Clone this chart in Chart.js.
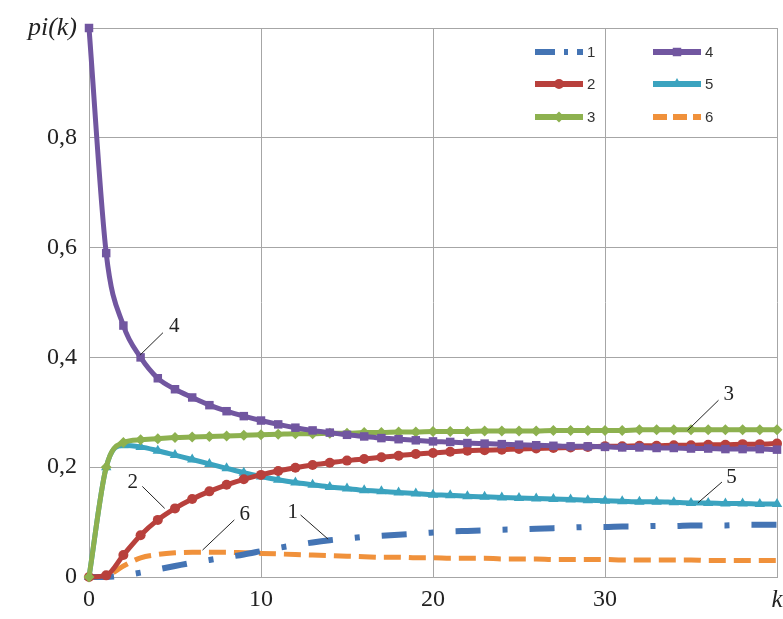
<!DOCTYPE html>
<html>
<head>
<meta charset="utf-8">
<script src="https://cdn.jsdelivr.net/npm/chart.js@4.4.1/dist/chart.umd.min.js"></script>
<style>
  body { margin: 0; background: #fff; }
  #wrap { width: 783px; height: 619px; }
</style>
</head>
<body>
<div id="wrap"><canvas id="chart" width="783" height="619"></canvas></div>
<script>
// k = 0..40
const K = Array.from({ length: 41 }, (_, i) => i);

const s1 = [0, 0, 0.003, 0.008, 0.014, 0.02, 0.026, 0.031, 0.036, 0.041, 0.047, 0.053, 0.058, 0.063, 0.067, 0.07, 0.073, 0.075, 0.077, 0.079, 0.081, 0.083, 0.084, 0.085, 0.086, 0.087, 0.088, 0.089, 0.09, 0.091, 0.091, 0.092, 0.092, 0.093, 0.093, 0.094, 0.094, 0.094, 0.095, 0.095, 0.095];
const s2 = [0, 0.003, 0.04, 0.076, 0.104, 0.125, 0.142, 0.156, 0.168, 0.178, 0.186, 0.193, 0.199, 0.204, 0.208, 0.212, 0.215, 0.218, 0.221, 0.224, 0.226, 0.228, 0.23, 0.231, 0.232, 0.233, 0.234, 0.235, 0.236, 0.237, 0.238, 0.238, 0.239, 0.239, 0.24, 0.24, 0.241, 0.241, 0.242, 0.242, 0.243];
const s3 = [0, 0.2, 0.245, 0.25, 0.252, 0.254, 0.255, 0.256, 0.257, 0.258, 0.259, 0.26, 0.261, 0.261, 0.262, 0.262, 0.263, 0.263, 0.264, 0.264, 0.265, 0.265, 0.265, 0.266, 0.266, 0.266, 0.266, 0.267, 0.267, 0.267, 0.267, 0.267, 0.268, 0.268, 0.268, 0.268, 0.268, 0.268, 0.268, 0.268, 0.268];
const s4 = [1.0, 0.59, 0.458, 0.4, 0.362, 0.342, 0.327, 0.313, 0.302, 0.293, 0.285, 0.278, 0.272, 0.267, 0.263, 0.259, 0.256, 0.253, 0.251, 0.249, 0.247, 0.246, 0.244, 0.243, 0.242, 0.241, 0.24, 0.239, 0.238, 0.238, 0.237, 0.236, 0.236, 0.235, 0.235, 0.234, 0.234, 0.233, 0.233, 0.233, 0.232];
const s5 = [0, 0.2, 0.24, 0.237, 0.23, 0.222, 0.214, 0.206, 0.198, 0.19, 0.183, 0.177, 0.172, 0.168, 0.164, 0.161, 0.158, 0.156, 0.154, 0.152, 0.15, 0.149, 0.147, 0.146, 0.145, 0.144, 0.143, 0.142, 0.141, 0.14, 0.139, 0.138, 0.137, 0.137, 0.136, 0.135, 0.135, 0.134, 0.134, 0.133, 0.133];
const s6 = [0, 0.002, 0.02, 0.035, 0.041, 0.044, 0.045, 0.045, 0.045, 0.044, 0.043, 0.042, 0.041, 0.04, 0.039, 0.038, 0.037, 0.036, 0.036, 0.035, 0.035, 0.034, 0.034, 0.034, 0.033, 0.033, 0.033, 0.032, 0.032, 0.032, 0.032, 0.031, 0.031, 0.031, 0.031, 0.031, 0.03, 0.03, 0.03, 0.03, 0.03];

const seriesNames = ['1', '2', '3', '4', '5', '6'];
const yTicks = [0, 0.2, 0.4, 0.6, 0.8, 1];
const xTicks = [0, 10, 20, 30, 40];

// curve callouts: label, point on curve, end of leader, text centre (data units)
const callouts = [
  { text: '4', from: [2.96, 0.404], to: [4.3, 0.445], at: [4.95, 0.457] },
  { text: '3', from: [34.8, 0.267], to: [36.6, 0.322], at: [37.2, 0.332] },
  { text: '5', from: [35.4, 0.135], to: [36.8, 0.173], at: [37.35, 0.181] },
  { text: '2', from: [4.4, 0.125], to: [3.1, 0.165], at: [2.55, 0.172] },
  { text: '6', from: [6.6, 0.049], to: [8.45, 0.104], at: [9.05, 0.114] },
  { text: '1', from: [13.9, 0.069], to: [12.3, 0.113], at: [11.85, 0.117] }
];

const pts = arr => arr.map((v, i) => ({ x: K[i], y: v }));

const serif = 'Liberation Serif, Times New Roman, serif';

const datasets = [
  { label: seriesNames[0], data: pts(s1), borderColor: '#4474b4', borderWidth: 6, borderDash: [25, 22, 5, 22], pointRadius: 0, order: 5 },
  { label: seriesNames[1], data: pts(s2), borderColor: '#b8403c', backgroundColor: '#b8403c', borderWidth: 5, pointStyle: 'circle', pointRadius: 5, order: 3 },
  { label: seriesNames[2], data: pts(s3), borderColor: '#8db14f', backgroundColor: '#8db14f', borderWidth: 5, pointStyle: 'rectRot', pointRadius: 5.5, order: 2 },
  { label: seriesNames[3], data: pts(s4), borderColor: '#7156a0', backgroundColor: '#7156a0', borderWidth: 5, pointStyle: 'rect', pointRadius: 6, order: 1 },
  { label: seriesNames[4], data: pts(s5), borderColor: '#3ba3bf', backgroundColor: '#3ba3bf', borderWidth: 5, pointStyle: 'triangle', pointRadius: 6, order: 4 },
  { label: seriesNames[5], data: pts(s6), borderColor: '#f0913b', borderWidth: 5, borderDash: [17, 8], pointRadius: 0, order: 6 }
];
datasets.forEach(d => {
  d.cubicInterpolationMode = 'monotone';
  d.pointBorderWidth = 0;
  d.fill = false;
  d.clip = 10;
});

const calloutPlugin = {
  id: 'callouts',
  afterDatasetsDraw(chart) {
    const { ctx, scales: { x, y } } = chart;
    ctx.save();
    ctx.strokeStyle = '#222';
    ctx.lineWidth = 1;
    ctx.fillStyle = '#222';
    ctx.font = '21px ' + serif;
    ctx.textAlign = 'center';
    ctx.textBaseline = 'middle';
    callouts.forEach(c => {
      ctx.beginPath();
      ctx.moveTo(x.getPixelForValue(c.from[0]), y.getPixelForValue(c.from[1]));
      ctx.lineTo(x.getPixelForValue(c.to[0]), y.getPixelForValue(c.to[1]));
      ctx.stroke();
      ctx.fillText(c.text, x.getPixelForValue(c.at[0]), y.getPixelForValue(c.at[1]));
    });
    ctx.restore();
  }
};

const legendPlugin = {
  id: 'cornerLegend',
  afterDraw(chart) {
    const ctx = chart.ctx;
    const cols = [535, 653];
    const rows = [52, 84, 117];
    ctx.save();
    ctx.font = '15px Liberation Sans, Arial, sans-serif';
    ctx.textBaseline = 'middle';
    ctx.fillStyle = '#333';
    chart.data.datasets.forEach((ds, i) => {
      const x0 = cols[Math.floor(i / 3)];
      const yy = rows[i % 3];
      const len = 48;
      ctx.save();
      ctx.strokeStyle = ds.borderColor;
      ctx.lineWidth = 6;
      ctx.setLineDash(ds.borderDash ? (i === 0 ? [20, 9, 4, 9] : [14, 6]) : []);
      ctx.beginPath();
      ctx.moveTo(x0, yy);
      ctx.lineTo(x0 + len, yy);
      ctx.stroke();
      ctx.setLineDash([]);
      if (ds.pointRadius > 0) {
        ctx.fillStyle = ds.backgroundColor;
        ctx.strokeStyle = ds.backgroundColor;
        Chart.helpers.drawPoint(ctx, { pointStyle: ds.pointStyle, radius: ds.pointRadius, borderWidth: 0, rotation: 0 }, x0 + len / 2, yy);
      }
      ctx.restore();
      ctx.fillText(ds.label, x0 + len + 4, yy + 1);
    });
    ctx.restore();
  }
};

new Chart(document.getElementById('chart'), {
  type: 'line',
  data: { datasets },
  options: {
    responsive: false,
    animation: false,
    layout: { padding: { top: 28, right: 0, left: 0, bottom: 0 } },
    plugins: { legend: { display: false }, tooltip: { enabled: false } },
    scales: {
      x: {
        type: 'linear',
        min: 0,
        max: 40,
        afterBuildTicks: s => { s.ticks = xTicks.map(v => ({ value: v })); },
        afterFit: s => { s.height = 42; s.paddingRight = 5; s.paddingLeft = 0; },
        grid: { color: '#a6a6a6', lineWidth: 1, drawTicks: false },
        border: { color: '#a6a6a6' },
        ticks: {
          padding: 8,
          color: '#222',
          maxRotation: 0,
          callback: v => v === 40 ? 'k' : String(v),
          font: c => (c.tick && c.tick.value === 40)
            ? { family: serif, size: 25, style: 'italic' }
            : { family: serif, size: 24 }
        }
      },
      y: {
        min: 0,
        max: 1,
        afterBuildTicks: s => { s.ticks = yTicks.map(v => ({ value: v })); },
        afterFit: s => { s.width = 89; },
        grid: { color: '#a6a6a6', lineWidth: 1, drawTicks: false },
        border: { color: '#a6a6a6' },
        ticks: {
          padding: 12,
          color: '#222',
          callback: v => v === 1 ? 'pi(k)' : (v === 0 ? '0' : v.toFixed(1).replace('.', ',')),
          font: c => (c.tick && c.tick.value === 1)
            ? { family: serif, size: 26, style: 'italic' }
            : { family: serif, size: 24 }
        }
      }
    }
  },
  plugins: [calloutPlugin, legendPlugin]
});
</script>
</body>
</html>
